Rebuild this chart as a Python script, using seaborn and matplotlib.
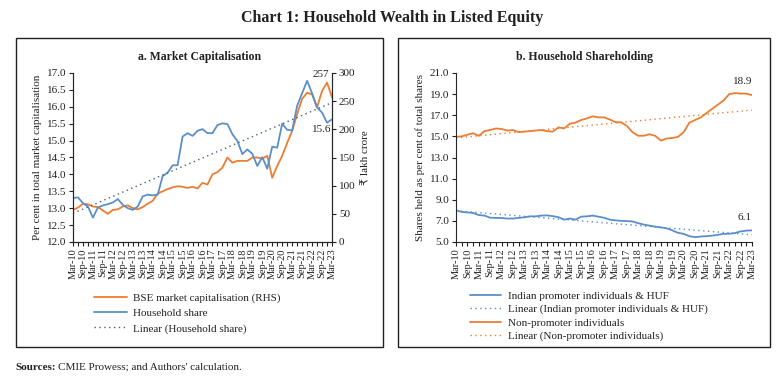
import numpy as np
import pandas as pd
import seaborn as sns
import matplotlib.pyplot as plt
from matplotlib.patches import Rectangle

# quarterly, Mar-10 .. Mar-23
quarters = [f"{m}-{y:02d}" for y in range(10, 24) for m in ("Mar", "Jun", "Sep", "Dec")][:53]

# panel a
household_share = [13.30, 13.32, 13.15, 13.05, 12.72, 13.02, 13.08, 13.12, 13.17, 13.27,
                   13.10, 13.00, 12.95, 13.05, 13.35, 13.40, 13.38, 13.40, 13.95, 14.05,
                   14.27, 14.27, 15.12, 15.22, 15.14, 15.29, 15.34, 15.22, 15.22, 15.46,
                   15.51, 15.49, 15.19, 14.99, 14.60, 14.74, 14.61, 14.25, 14.51, 14.17,
                   14.82, 14.79, 15.50, 15.32, 15.30, 16.03, 16.40, 16.77, 16.40, 15.98,
                   15.83, 15.53, 15.63]
bse_mcap = [57, 61, 68, 67, 63, 62, 56, 50, 57, 58,
            63, 65, 60, 58, 62, 68, 73, 86, 90, 94,
            97, 99, 98, 96, 98, 95, 105, 102, 120, 124,
            132, 150, 141, 144, 144, 144, 150, 150, 148, 153,
            114, 135, 153, 176, 197, 227, 254, 265, 262, 239,
            268, 283, 257]

# panel b
promoter = [8.00, 7.85, 7.80, 7.75, 7.55, 7.50, 7.30, 7.28, 7.27, 7.22,
            7.22, 7.28, 7.34, 7.43, 7.43, 7.50, 7.52, 7.45, 7.35, 7.12,
            7.22, 7.12, 7.40, 7.43, 7.50, 7.40, 7.30, 7.12, 7.05, 7.00,
            6.98, 6.95, 6.78, 6.65, 6.55, 6.45, 6.38, 6.30, 6.10, 5.87,
            5.77, 5.55, 5.46, 5.52, 5.55, 5.60, 5.68, 5.77, 5.78, 5.85,
            6.00, 6.08, 6.10]
non_promoter = [14.95, 15.00, 15.15, 15.30, 15.05, 15.50, 15.60, 15.75, 15.70, 15.55,
                15.60, 15.40, 15.45, 15.50, 15.55, 15.60, 15.50, 15.45, 15.85, 15.75,
                16.20, 16.30, 16.55, 16.70, 16.90, 16.80, 16.80, 16.60, 16.35, 16.33,
                16.00, 15.40, 15.06, 15.06, 15.20, 15.05, 14.60, 14.80, 14.85, 14.95,
                15.40, 16.30, 16.55, 16.80, 17.20, 17.60, 18.00, 18.40, 19.00, 19.10,
                19.05, 19.05, 18.90]

BLUE = "#5B8FC9"
ORANGE = "#ED7D31"
TREND = "#4A5C7E"
TXT = "#222222"

sns.set_style("ticks")
plt.rcParams["font.family"] = ["Liberation Serif", "DejaVu Serif"]
plt.rcParams["text.color"] = TXT
plt.rcParams["axes.labelcolor"] = TXT
plt.rcParams["xtick.color"] = TXT
plt.rcParams["ytick.color"] = TXT

idx = np.arange(len(quarters))
df = pd.DataFrame({"q": idx, "hh": household_share, "mcap": bse_mcap,
                   "prom": promoter, "nonprom": non_promoter})
for col in ["hh", "prom", "nonprom"]:
    k, c = np.polyfit(df["q"], df[col], 1)
    df[col + "_trend"] = k * df["q"] + c

fig = plt.figure(figsize=(7.84, 3.82), dpi=100)
W, H = 784, 382


def box(x0, y0, x1, y1):
    # pixel coords (top-left origin) -> figure fraction
    return [x0 / W, 1 - y1 / H, (x1 - x0) / W, (y1 - y0) / H]


def style_x(ax):
    ax.set_xlim(0, len(quarters) - 1)
    ax.set_xticks(idx)
    ax.set_xticklabels([q if i % 2 == 0 else "" for i, q in enumerate(quarters)],
                       rotation=90, fontsize=7.5)
    ax.tick_params(axis="x", length=3, width=0.8, pad=1.5)
    ax.set_xlabel("")


# frames
for (x0, x1) in [(16, 383), (398, 770)]:
    fig.add_artist(Rectangle((x0 / W, 1 - 347 / H), (x1 - x0) / W, (347 - 38) / H,
                             transform=fig.transFigure, fill=False, lw=1.0, ec="#222222"))

fig.text(0.5, 1 - 18 / H, "Chart 1: Household Wealth in Listed Equity",
         ha="center", va="center", fontsize=11.5, fontweight="bold")

# ---- panel a
ax = fig.add_axes(box(73, 73, 332, 242))
ax2 = ax.twinx()
sns.lineplot(data=df, x="q", y="mcap", ax=ax2, color=ORANGE, lw=1.3,
             label="BSE market capitalisation (RHS)")
sns.lineplot(data=df, x="q", y="hh", ax=ax, color=BLUE, lw=1.3, label="Household share")
sns.lineplot(data=df, x="q", y="hh_trend", ax=ax, color=TREND, lw=1.0,
             linestyle=(0, (1, 2.5)), label="Linear (Household share)")
ax.set_zorder(ax2.get_zorder() + 1)
ax.patch.set_visible(False)

ax.set_ylim(12, 17)
ax.set_yticks(np.arange(12, 17.01, 0.5))
ax.set_yticklabels([f"{v:.1f}" for v in np.arange(12, 17.01, 0.5)], fontsize=8)
ax.set_ylabel("Per cent in total market capitalisation", fontsize=8, labelpad=3)
ax2.set_ylim(0, 300)
ax2.set_yticks(np.arange(0, 301, 50))
ax2.tick_params(axis="y", labelsize=8, length=3, pad=2)
ax.tick_params(axis="y", length=3, pad=2)
ax2.set_ylabel("₹ lakh crore", fontsize=8, labelpad=4, family=["Liberation Serif", "DejaVu Sans"])
style_x(ax)
ax2.set_xlabel("")
for a in (ax, ax2):
    a.spines["top"].set_visible(False)
    for s in a.spines.values():
        s.set_linewidth(0.8)

ax2.annotate(f"{bse_mcap[-1]}", (idx[-1], bse_mcap[-1]), textcoords="offset pixels",
             xytext=(-3, 18), ha="right", va="bottom", fontsize=8)
ax.annotate(f"{household_share[-1]:.1f}", (idx[-1], household_share[-1]),
            textcoords="offset pixels", xytext=(-1, -6), ha="right", va="top", fontsize=8)

h1, l1 = ax2.get_legend_handles_labels()
h2, l2 = ax.get_legend_handles_labels()
ax.get_legend().remove()
ax2.get_legend().remove()
fig.legend(h1 + h2, l1 + l2, loc="upper left", bbox_to_anchor=(94 / W, 1 - 293 / H),
           frameon=False, fontsize=8, handlelength=3.0, handletextpad=0.5,
           labelspacing=0.48, borderpad=0, borderaxespad=0)
fig.text(200 / W, 1 - 57 / H, "a. Market Capitalisation", ha="center", va="center",
         fontsize=8.5, fontweight="bold")

# ---- panel b
bx = fig.add_axes(box(456, 73, 752, 242))
sns.lineplot(data=df, x="q", y="prom", ax=bx, color=BLUE, lw=1.3,
             label="Indian promoter individuals & HUF")
sns.lineplot(data=df, x="q", y="prom_trend", ax=bx, color=BLUE, lw=1.0,
             linestyle=(0, (1, 2.5)), label="Linear (Indian promoter individuals & HUF)")
sns.lineplot(data=df, x="q", y="nonprom", ax=bx, color=ORANGE, lw=1.3,
             label="Non-promoter individuals")
sns.lineplot(data=df, x="q", y="nonprom_trend", ax=bx, color=ORANGE, lw=1.0,
             linestyle=(0, (1, 2.5)), label="Linear (Non-promoter individuals)")
bx.set_ylim(5, 21)
bx.set_yticks(np.arange(5, 21.1, 2))
bx.set_yticklabels([f"{v:.1f}" for v in np.arange(5, 21.1, 2)], fontsize=8)
bx.tick_params(axis="y", length=3, pad=2)
bx.set_ylabel("Shares held as per cent of total shares", fontsize=8, labelpad=3)
style_x(bx)
sns.despine(ax=bx)
for s in bx.spines.values():
    s.set_linewidth(0.8)

bx.annotate(f"{non_promoter[-1]:.1f}", (idx[-1], non_promoter[-1]), textcoords="offset pixels",
            xytext=(0, 9), ha="right", va="bottom", fontsize=8)
bx.annotate(f"{promoter[-1]:.1f}", (idx[-1], promoter[-1]), textcoords="offset pixels",
            xytext=(0, 8), ha="right", va="bottom", fontsize=8)

h, l = bx.get_legend_handles_labels()
bx.get_legend().remove()
fig.legend(h, l, loc="upper left", bbox_to_anchor=(470 / W, 1 - 291 / H),
           frameon=False, fontsize=8, handlelength=2.8, handletextpad=0.6,
           labelspacing=0.32, borderpad=0, borderaxespad=0)
fig.text(585 / W, 1 - 57 / H, "b. Household Shareholding", ha="center", va="center",
         fontsize=8.5, fontweight="bold")

fig.text(15 / W, 1 - 367 / H, "Sources:", ha="left", va="center", fontsize=8,
         fontweight="bold")
fig.text(58 / W, 1 - 367 / H, "CMIE Prowess; and Authors' calculation.", ha="left",
         va="center", fontsize=8)

plt.savefig("out.png", dpi=100)
